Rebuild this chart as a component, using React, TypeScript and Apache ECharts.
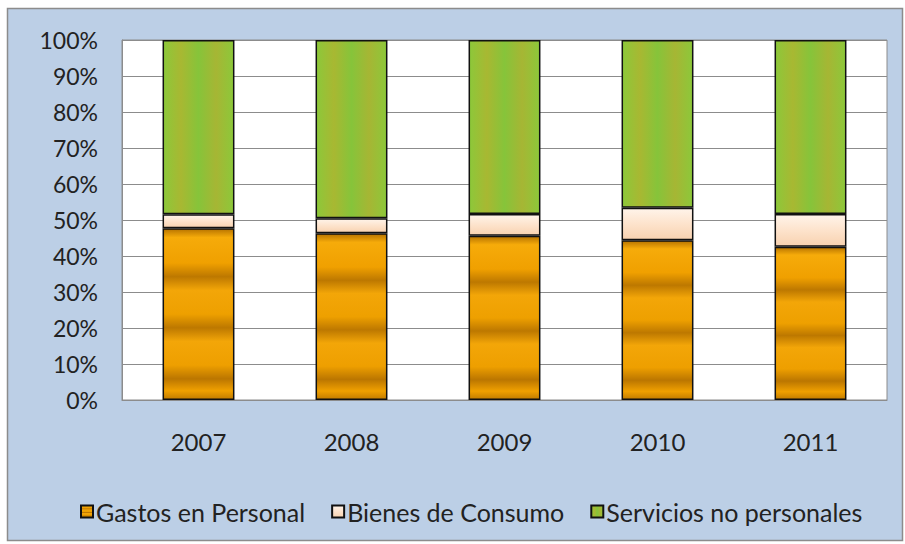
import React, { useEffect, useRef } from "react";
import * as echarts from "echarts";

const years = ["2007", "2008", "2009", "2010", "2011"];
const gastosPersonal = [47.7, 46.3, 45.6, 44.4, 42.6];
const bienesConsumo = [3.9, 4.2, 6.1, 9.0, 9.1];
const serviciosNoPersonales = [48.4, 49.5, 48.3, 46.6, 48.3];
const yTicks = [0, 10, 20, 30, 40, 50, 60, 70, 80, 90, 100];

const FONT = "Lato, 'Open Sans', sans-serif";

export default function App() {
  const ref = useRef<HTMLDivElement>(null);
  useEffect(() => {
    document.body.style.margin = "0";
    if (!ref.current) return;
    const chart = echarts.init(ref.current, undefined, { renderer: "svg" });
    const orange = new echarts.graphic.LinearGradient(0, 0, 0, 1, [
      { offset: 0, color: "#b87400" },
      { offset: 0.05, color: "#f6ab0a" },
      { offset: 0.2, color: "#f0a000" },
      { offset: 0.28, color: "#bd7800" },
      { offset: 0.36, color: "#f3a608" },
      { offset: 0.5, color: "#eea000" },
      { offset: 0.58, color: "#bd7800" },
      { offset: 0.66, color: "#f3a608" },
      { offset: 0.8, color: "#ee9f00" },
      { offset: 0.88, color: "#bb7600" },
      { offset: 0.95, color: "#f0a000" },
      { offset: 1, color: "#c27c00" },
    ]);
    const peach = new echarts.graphic.LinearGradient(0, 0, 0, 1, [
      { offset: 0, color: "#fff4ea" },
      { offset: 0.5, color: "#fde3cc" },
      { offset: 1, color: "#f8d2b0" },
    ]);
    const green = new echarts.graphic.LinearGradient(0, 0, 1, 0, [
      { offset: 0, color: "#8cc83a" },
      { offset: 0.25, color: "#a8b832" },
      { offset: 0.5, color: "#86c43a" },
      { offset: 0.75, color: "#a6b634" },
      { offset: 1, color: "#8cc83a" },
    ]);
    const common = {
      type: "bar" as const,
      stack: "total",
      barWidth: "47%",
    };
    chart.setOption({
      animation: false,
      backgroundColor: "#ffffff",
      graphic: [
        {
          type: "rect",
          z: -10,
          shape: { x: 7.5, y: 8.5, width: 895, height: 532 },
          style: { fill: "#bccfe6", stroke: "#8c8c8c", lineWidth: 1.5 },
          silent: true,
        },
      ],
      grid: {
        left: 122,
        top: 40,
        width: 765,
        height: 360,
        show: true,
        backgroundColor: "#ffffff",
        borderColor: "#8c8c8c",
        borderWidth: 1,
        containLabel: false,
      },
      legend: {
        top: 494,
        left: 75,
        itemWidth: 12,
        itemHeight: 12,
        itemGap: 26,
        icon: "rect",
        textStyle: { fontFamily: FONT, fontSize: 25, color: "#222222", padding: [0, 0, 0, -2] },
        data: ["Gastos en Personal", "Bienes de Consumo", "Servicios no personales"],
      },
      xAxis: {
        type: "category",
        data: years,
        axisLine: { lineStyle: { color: "#8c8c8c" } },
        axisTick: { show: false },
        axisLabel: { fontFamily: FONT, fontSize: 24, color: "#222222", margin: 29 },
      },
      yAxis: {
        type: "value",
        min: 0,
        max: 100,
        interval: 10,
        axisLine: { show: true, lineStyle: { color: "#8c8c8c" } },
        axisTick: { show: false },
        splitLine: { lineStyle: { color: "#8c8c8c", width: 1 } },
        axisLabel: {
          fontFamily: FONT,
          fontSize: 23,
          color: "#222222",
          margin: 24,
          formatter: (v: number) => (yTicks.includes(v) ? v + "%" : ""),
        },
      },
      series: [
        {
          ...common,
          name: "Gastos en Personal",
          data: gastosPersonal,
          itemStyle: { color: orange, borderColor: "#111111", borderWidth: 1.5 },
        },
        {
          ...common,
          name: "Bienes de Consumo",
          data: bienesConsumo,
          itemStyle: { color: peach, borderColor: "#111111", borderWidth: 1.5 },
        },
        {
          ...common,
          name: "Servicios no personales",
          data: serviciosNoPersonales,
          itemStyle: { color: green, borderColor: "#111111", borderWidth: 1.5 },
        },
      ],
    });
    return () => chart.dispose();
  }, []);
  return <div ref={ref} style={{ width: 905, height: 544 }} />;
}
